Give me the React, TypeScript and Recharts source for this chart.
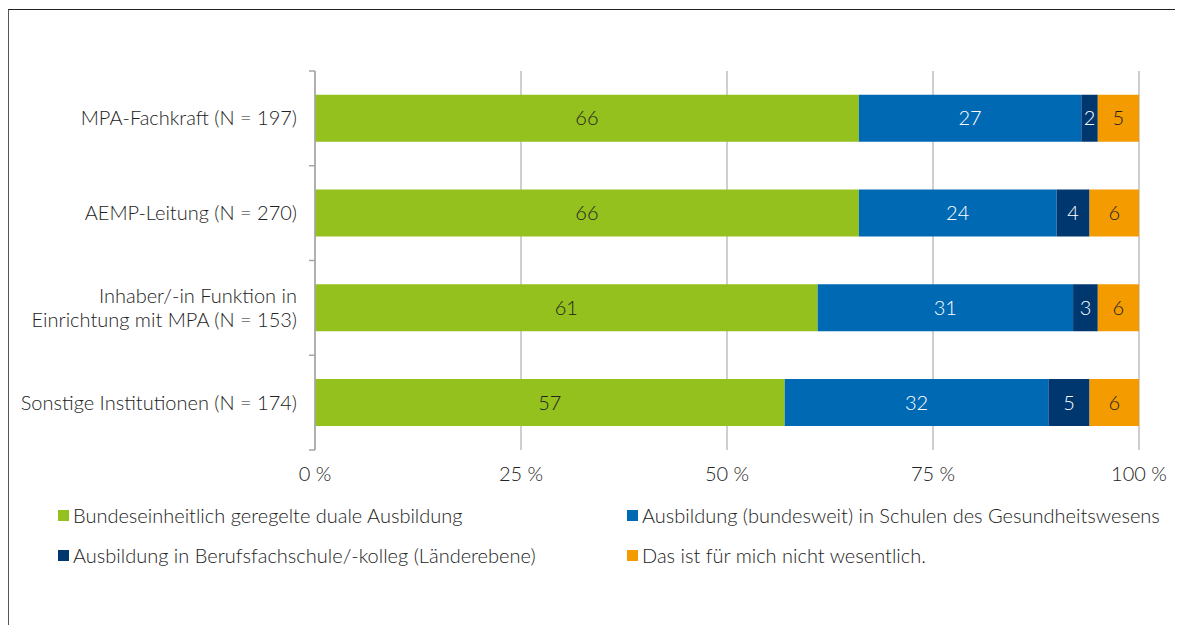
import React from 'react';
import { BarChart, Bar, XAxis, YAxis, CartesianGrid, LabelList } from 'recharts';

const categories = [
    ['MPA-Fachkraft (N = 197)'],
    ['AEMP-Leitung (N = 270)'],
    ['Inhaber/-in Funktion in', 'Einrichtung mit MPA (N = 153)'],
    ['Sonstige Institutionen (N = 174)'],
];
const dualValues = [66, 66, 61, 57];
const schulenValues = [27, 24, 31, 32];
const berufsValues = [2, 4, 3, 5];
const egalValues = [5, 6, 6, 6];
const xTicks = [0, 25, 50, 75, 100];

const series = [
    { key: 'dual', name: 'Bundeseinheitlich geregelte duale Ausbildung', color: '#95c11f', text: '#222222' },
    { key: 'schulen', name: 'Ausbildung (bundesweit) in Schulen des Gesundheitswesens', color: '#0069b4', text: '#ffffff' },
    { key: 'berufs', name: 'Ausbildung in Berufsfachschule/-kolleg (Länderebene)', color: '#00376f', text: '#ffffff' },
    { key: 'egal', name: 'Das ist für mich nicht wesentlich.', color: '#f49b00', text: '#222222' },
];

const data = categories.map((lines, i) => ({
    name: lines.join(' '),
    lines,
    dual: dualValues[i],
    schulen: schulenValues[i],
    berufs: berufsValues[i],
    egal: egalValues[i],
}));

const FONT = 'Lato, sans-serif';
const FS = 20;
const FW = 300;
const TXT = '#222222';
const CHART_W = 1174;
const CHART_H = 480;
const MARGIN = { top: 61, right: 44, bottom: 10, left: 0 };
const X_AXIS_H = 30;
const BAND = (CHART_H - MARGIN.top - MARGIN.bottom - X_AXIS_H) / categories.length;

const CategoryTick = (props: any) => {
    const { x, y, index, payload } = props;
    const lines: string[] = data[index] ? data[index].lines : [payload.value];
    const axisX = x + 8;
    const lh = 24;
    const startY = y - ((lines.length - 1) * lh) / 2;
    return (
        <g>
            <line x1={axisX - 6} x2={axisX} y1={y - BAND / 2} y2={y - BAND / 2} stroke="#a6a6a6" strokeWidth={1.5} />
            {index === categories.length - 1 && (
                <line x1={axisX - 6} x2={axisX} y1={y + BAND / 2} y2={y + BAND / 2} stroke="#a6a6a6" strokeWidth={1.5} />
            )}
            <text textAnchor="end" fill={TXT} fontSize={FS} fontWeight={FW} fontFamily={FONT}>
                {lines.map((l, i) => (
                    <tspan key={i} x={x - 10} y={startY + i * lh} dy="0.35em">{l}</tspan>
                ))}
            </text>
        </g>
    );
};

const LegendBox = () => (
    <div style={{
        display: 'grid',
        gridTemplateColumns: '569px 540px',
        rowGap: 18,
        marginLeft: 49,
        marginTop: 14,
        fontFamily: FONT,
        fontSize: FS,
        fontWeight: FW,
        color: TXT,
        whiteSpace: 'nowrap',
    }}>
        {series.map(s => (
            <div key={s.key} style={{ display: 'flex', alignItems: 'center', height: 22 }}>
                <span style={{ width: 11, height: 11, background: s.color, marginRight: 4, display: 'inline-block', flexShrink: 0 }} />
                <span>{s.name}</span>
            </div>
        ))}
    </div>
);

export default function App() {
    return (
        <div style={{
            position: 'relative',
            top: 1,
            width: 1175,
            height: 617,
            borderTop: '1.5px solid #222222',
            borderLeft: '1.5px solid #555555',
            boxSizing: 'border-box',
        }}>
            <BarChart
                width={CHART_W}
                height={CHART_H}
                data={data}
                layout="vertical"
                margin={MARGIN}
                barCategoryGap="25%"
            >
                <CartesianGrid horizontal={false} stroke="#bfbfbf" strokeWidth={1.5} />
                <XAxis
                    type="number"
                    domain={[0, 100]}
                    ticks={xTicks}
                    allowDataOverflow
                    height={X_AXIS_H}
                    axisLine={false}
                    tickLine={false}
                    tickMargin={11}
                    tickFormatter={(v: number) => `${v} %`}
                    tick={{ fill: TXT, fontSize: FS, fontWeight: FW, fontFamily: FONT }}
                />
                <YAxis
                    type="category"
                    dataKey="name"
                    width={306}
                    axisLine={{ stroke: '#a6a6a6', strokeWidth: 1.5 }}
                    tickLine={false}
                    tick={<CategoryTick />}
                    interval={0}
                />
                {series.map(s => (
                    <Bar key={s.key} dataKey={s.key} name={s.name} stackId="a" fill={s.color} isAnimationActive={false}>
                        <LabelList
                            dataKey={s.key}
                            position="center"
                            fill={s.text}
                            fontSize={FS}
                            fontWeight={FW}
                            fontFamily={FONT}
                        />
                    </Bar>
                ))}
            </BarChart>
            <LegendBox />
        </div>
    );
}
